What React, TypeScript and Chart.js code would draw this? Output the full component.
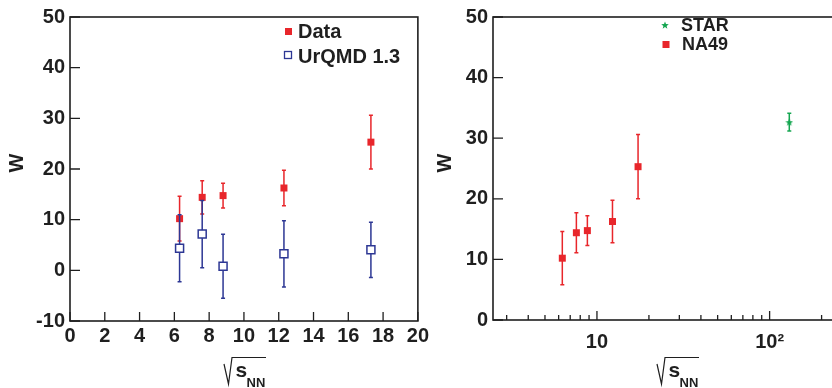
import React, { useEffect, useRef } from "react";
import { Chart, registerables } from "chart.js";
Chart.register(...registerables);

// ---------- data ----------
const sqrtSNN = [6.3, 7.6, 8.8, 12.3, 17.3];
const dataW = [10.2, 14.4, 14.75, 16.25, 25.3];
const dataErr = [4.4, 3.3, 2.45, 3.5, 5.3];
const urqmdW = [4.35, 7.15, 0.8, 3.25, 4.05];
const urqmdErr = [6.6, 6.65, 6.3, 6.55, 5.45];
const starSqrtSNN = [130];
const starW = [32.65];
const starErr = [1.45];

const leftXTicks = [0, 2, 4, 6, 8, 10, 12, 14, 16, 18, 20];
const leftYTicks = [-10, 0, 10, 20, 30, 40, 50];
const rightYTicks = [0, 10, 20, 30, 40, 50];
const rightXMajor = [10, 100];
const rightXMinor = [3, 4, 5, 6, 7, 8, 9, 20, 30, 40, 50, 60, 70, 80, 90, 200, 300];

const FONT = '"Liberation Sans", Arial, Helvetica, sans-serif';
const INK = "#1f1f1f";
const RED = "#e8262b";
const BLUE = "#2d3794";
const GREEN = "#14a650";

function makeStar(size: number, color: string) {
  const c = document.createElement("canvas");
  c.width = size;
  c.height = size;
  const g = c.getContext("2d")!;
  const cx = size / 2, cy = size / 2 + 0.4;
  const R = size / 2, r = R * 0.42;
  g.beginPath();
  for (let i = 0; i < 10; i++) {
    const rad = i % 2 === 0 ? R : r;
    const a = -Math.PI / 2 + (i * Math.PI) / 5;
    const x = cx + rad * Math.cos(a), y = cy + rad * Math.sin(a);
    if (i === 0) g.moveTo(x, y);
    else g.lineTo(x, y);
  }
  g.closePath();
  g.fillStyle = color;
  g.fill();
  return c;
}

const errorBarPlugin = {
  id: "errbars",
  beforeDatasetDraw(chart: any, args: any) {
    const ds: any = chart.data.datasets[args.index];
    if (!ds.errors) return;
    const ctx = chart.ctx;
    const ys = chart.scales.y;
    ctx.save();
    ctx.strokeStyle = ds.errColor;
    ctx.lineWidth = 1.5;
    args.meta.data.forEach((pt: any, i: number) => {
      const v = ds.data[i].y;
      const e = ds.errors[i];
      const x = pt.x;
      const y1 = ys.getPixelForValue(v + e);
      const y2 = ys.getPixelForValue(v - e);
      ctx.beginPath();
      ctx.moveTo(x, y1);
      ctx.lineTo(x, y2);
      ctx.moveTo(x - 2, y1);
      ctx.lineTo(x + 2, y1);
      ctx.moveTo(x - 2, y2);
      ctx.lineTo(x + 2, y2);
      ctx.stroke();
    });
    ctx.restore();
  },
};

function drawSqrtTitle(ctx: CanvasRenderingContext2D, x0: number) {
  ctx.save();
  ctx.strokeStyle = INK;
  ctx.lineWidth = 1.2;
  ctx.beginPath();
  ctx.moveTo(x0, 364);
  ctx.lineTo(x0 + 4.5, 384);
  ctx.lineTo(x0 + 8, 357.5);
  ctx.lineTo(x0 + 42, 357.5);
  ctx.stroke();
  ctx.fillStyle = INK;
  ctx.textAlign = "left";
  ctx.textBaseline = "alphabetic";
  ctx.font = `bold 21px ${FONT}`;
  ctx.fillText("s", x0 + 11.5, 377);
  ctx.font = `bold 13px ${FONT}`;
  ctx.fillText("NN", x0 + 22.5, 386.5);
  ctx.restore();
}

function drawW(ctx: CanvasRenderingContext2D, x: number, y: number) {
  ctx.save();
  ctx.translate(x, y);
  ctx.rotate(-Math.PI / 2);
  ctx.fillStyle = INK;
  ctx.font = `bold 20px ${FONT}`;
  ctx.textAlign = "center";
  ctx.textBaseline = "middle";
  ctx.fillText("W", 0, 0);
  ctx.restore();
}

function framePlugin(opts: {
  xTicks: { v: number; len: number }[];
  yTicks: { v: number; len: number }[];
  extra: (ctx: CanvasRenderingContext2D, chart: any) => void;
}) {
  return {
    id: "frame",
    afterDraw(chart: any) {
      const ctx: CanvasRenderingContext2D = chart.ctx;
      const a = chart.chartArea;
      const xs = chart.scales.x, ys = chart.scales.y;
      ctx.save();
      ctx.strokeStyle = INK;
      ctx.lineWidth = 1.6;
      ctx.strokeRect(a.left, a.top, a.right - a.left, a.bottom - a.top);
      ctx.lineWidth = 1.3;
      ctx.beginPath();
      opts.xTicks.forEach((t) => {
        const px = xs.getPixelForValue(t.v);
        ctx.moveTo(px, a.bottom);
        ctx.lineTo(px, a.bottom - t.len);
      });
      opts.yTicks.forEach((t) => {
        const py = ys.getPixelForValue(t.v);
        ctx.moveTo(a.left, py);
        ctx.lineTo(a.left + t.len, py);
      });
      ctx.stroke();
      ctx.restore();
      opts.extra(ctx, chart);
    },
  };
}

const tickFont = { family: FONT, size: 20, weight: "bold" as const };

export default function App() {
  const leftRef = useRef<HTMLCanvasElement>(null);
  const rightRef = useRef<HTMLCanvasElement>(null);

  useEffect(() => {
    const star = makeStar(8, GREEN);
    const starLegend = makeStar(8, GREEN);

    const left = new Chart(leftRef.current!, {
      type: "scatter",
      data: {
        datasets: [
          {
            label: "UrQMD 1.3",
            data: sqrtSNN.map((x, i) => ({ x, y: urqmdW[i] })),
            errors: urqmdErr,
            errColor: BLUE,
            pointStyle: "rect",
            pointRadius: 5.66,
            pointHoverRadius: 5.66,
            backgroundColor: "#ffffff",
            borderColor: BLUE,
            borderWidth: 1.5,
          } as any,
          {
            label: "Data",
            data: sqrtSNN.map((x, i) => ({ x, y: dataW[i] })),
            errors: dataErr,
            errColor: RED,
            pointStyle: "rect",
            pointRadius: 4.95,
            pointHoverRadius: 4.95,
            backgroundColor: RED,
            borderColor: RED,
            borderWidth: 0,
          } as any,
        ],
      },
      options: {
        responsive: false,
        animation: false,
        devicePixelRatio: 1,
        events: [],
        layout: { padding: { top: 13, left: 0, right: 13, bottom: 0 } },
        plugins: { legend: { display: false }, tooltip: { enabled: false } },
        scales: {
          x: {
            type: "linear",
            min: 0,
            max: 20,
            afterFit: (s: any) => { s.height = 67; },
            afterBuildTicks: (s: any) => { s.ticks = leftXTicks.map((v) => ({ value: v })); },
            grid: { display: false, drawTicks: false },
            border: { display: false },
            ticks: { padding: 3, font: tickFont, color: INK, autoSkip: false, maxRotation: 0 },
          },
          y: {
            type: "linear",
            min: -10,
            max: 50,
            afterFit: (s: any) => { s.width = 70; },
            afterBuildTicks: (s: any) => { s.ticks = leftYTicks.map((v) => ({ value: v })); },
            grid: { display: false, drawTicks: false },
            border: { display: false },
            ticks: { padding: 5, font: tickFont, color: INK, autoSkip: false },
          },
        },
      } as any,
      plugins: [
        errorBarPlugin as any,
        framePlugin({
          xTicks: leftXTicks.map((v) => ({ v, len: 9 })),
          yTicks: leftYTicks.map((v) => ({ v, len: 10 })),
          extra: (ctx) => {
            drawW(ctx, 17, 163);
            drawSqrtTitle(ctx, 224);
            ctx.save();
            ctx.fillStyle = RED;
            ctx.fillRect(285, 28, 7, 7);
            ctx.strokeStyle = BLUE;
            ctx.lineWidth = 1.3;
            ctx.strokeRect(284.5, 51.5, 7, 7);
            ctx.fillStyle = INK;
            ctx.font = `bold 20px ${FONT}`;
            ctx.textAlign = "left";
            ctx.textBaseline = "alphabetic";
            ctx.fillText("Data", 298, 38);
            ctx.fillText("UrQMD 1.3", 298, 63);
            ctx.restore();
          },
        }) as any,
      ],
    });

    const right = new Chart(rightRef.current!, {
      type: "scatter",
      data: {
        datasets: [
          {
            label: "STAR",
            data: starSqrtSNN.map((x, i) => ({ x, y: starW[i] })),
            errors: starErr,
            errColor: GREEN,
            pointStyle: star,
            pointRadius: 4,
            backgroundColor: GREEN,
            borderColor: GREEN,
          } as any,
          {
            label: "NA49",
            data: sqrtSNN.map((x, i) => ({ x, y: dataW[i] })),
            errors: dataErr,
            errColor: RED,
            pointStyle: "rect",
            pointRadius: 4.95,
            pointHoverRadius: 4.95,
            backgroundColor: RED,
            borderColor: RED,
            borderWidth: 0,
          } as any,
        ],
      },
      options: {
        responsive: false,
        animation: false,
        devicePixelRatio: 1,
        events: [],
        layout: { padding: { top: 13, left: 0, right: 48, bottom: 0 } },
        plugins: { legend: { display: false }, tooltip: { enabled: false } },
        scales: {
          x: {
            type: "logarithmic",
            min: 2.5,
            max: 300,
            afterFit: (s: any) => { s.height = 68; },
            afterBuildTicks: (s: any) => { s.ticks = rightXMajor.map((v) => ({ value: v })); },
            grid: { display: false, drawTicks: false },
            border: { display: false },
            ticks: {
              padding: 10,
              font: tickFont,
              color: INK,
              autoSkip: false,
              maxRotation: 0,
              callback: (v: any) => (v === 10 ? "10" : v === 100 ? "10\u00B2" : ""),
            },
          },
          y: {
            type: "linear",
            min: 0,
            max: 50,
            afterFit: (s: any) => { s.width = 68; },
            afterBuildTicks: (s: any) => { s.ticks = rightYTicks.map((v) => ({ value: v })); },
            grid: { display: false, drawTicks: false },
            border: { display: false },
            ticks: { padding: 5, font: tickFont, color: INK, autoSkip: false },
          },
        },
      } as any,
      plugins: [
        errorBarPlugin as any,
        framePlugin({
          xTicks: [
            ...rightXMajor.map((v) => ({ v, len: 9 })),
            ...rightXMinor.map((v) => ({ v, len: 5 })),
          ],
          yTicks: rightYTicks.map((v) => ({ v, len: 10 })),
          extra: (ctx) => {
            drawW(ctx, 445 - 425, 163);
            drawSqrtTitle(ctx, 657 - 425);
            ctx.save();
            ctx.drawImage(starLegend, 240 - 4, 25 - 4);
            ctx.fillStyle = RED;
            ctx.fillRect(237.5, 41, 7, 7);
            ctx.fillStyle = INK;
            ctx.font = `bold 18px ${FONT}`;
            ctx.textAlign = "left";
            ctx.textBaseline = "alphabetic";
            ctx.fillText("STAR", 256, 31);
            ctx.fillText("NA49", 257, 50);
            ctx.restore();
          },
        }) as any,
      ],
    });

    return () => {
      left.destroy();
      right.destroy();
    };
  }, []);

  return (
    <div
      style={{
        position: "fixed",
        left: 0,
        top: 0,
        width: 832,
        height: 388,
        overflow: "hidden",
        background: "#ffffff",
      }}
    >
      <canvas
        ref={leftRef}
        width={432}
        height={388}
        style={{ position: "absolute", left: 0, top: 0, width: 432, height: 388 }}
      />
      <canvas
        ref={rightRef}
        width={475}
        height={388}
        style={{ position: "absolute", left: 425, top: 0, width: 475, height: 388 }}
      />
    </div>
  );
}
